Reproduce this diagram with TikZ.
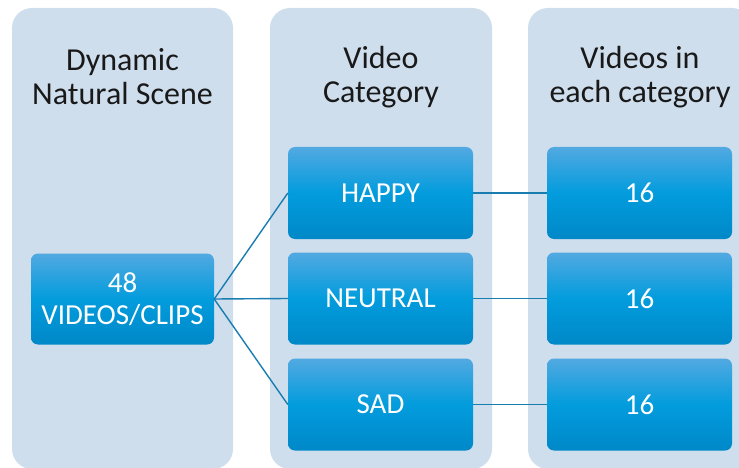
\documentclass[tikz,border=0pt]{standalone}
\usepackage{fontspec}
\setmainfont{Carlito}
\definecolor{colbg}{HTML}{CEDEED}
\definecolor{ntop}{HTML}{52A9E1}
\definecolor{nmid}{HTML}{029CDD}
\definecolor{nbot}{HTML}{0088C8}
\definecolor{link}{HTML}{1A7DB0}
\begin{document}
\begin{tikzpicture}[x=1pt,y=-1pt,
  column/.style={fill=colbg, draw=none, rounded corners=20pt},
  title/.style={align=center, font=\fontsize{32}{34}\selectfont, text=black!90},
  box/.style={draw=none, rounded corners=7pt, minimum width=185pt, minimum height=92pt,
    top color=ntop, bottom color=nbot, middle color=nmid, shading angle=0,
    text=white, align=center, font=\fontsize{29}{32}\selectfont, inner sep=0pt},
  conn/.style={draw=link, line width=1.4pt}]
\useasboundingbox (0,0) rectangle (739,468);
\begin{scope}
\clip (0,0) rectangle (739,468);
\fill[column] (12,8) rectangle (233,469);
\fill[column] (270,8) rectangle (492,469);
\fill[column] (528,8) rectangle (752,469);
\end{scope}
\node[title] (t1) at (122.5,77) {Dynamic\\Natural Scene};
\node[title] (t2) at (381,77) {Video\\Category};
\node[title] (t3) at (640,77) {Videos in\\each category};
\node[box, minimum width=183pt, minimum height=91pt] (src) at (122.5,299) {48\\VIDEOS/CLIPS};
\node[box] (happy) at (380.5,193) {HAPPY};
\node[box] (neutral) at (380.5,298.5) {NEUTRAL};
\node[box] (sad) at (380.5,404.5) {SAD};
\node[box] (n1) at (639.5,193) {16};
\node[box] (n2) at (639.5,298.5) {16};
\node[box] (n3) at (639.5,404.5) {16};
\draw[conn] (src.east) -- (happy.west);
\draw[conn] (src.east) -- (neutral.west);
\draw[conn] (src.east) -- (sad.west);
\draw[conn] (happy.east) -- (n1.west);
\draw[conn] (neutral.east) -- (n2.west);
\draw[conn] (sad.east) -- (n3.west);
\end{tikzpicture}
\end{document}
